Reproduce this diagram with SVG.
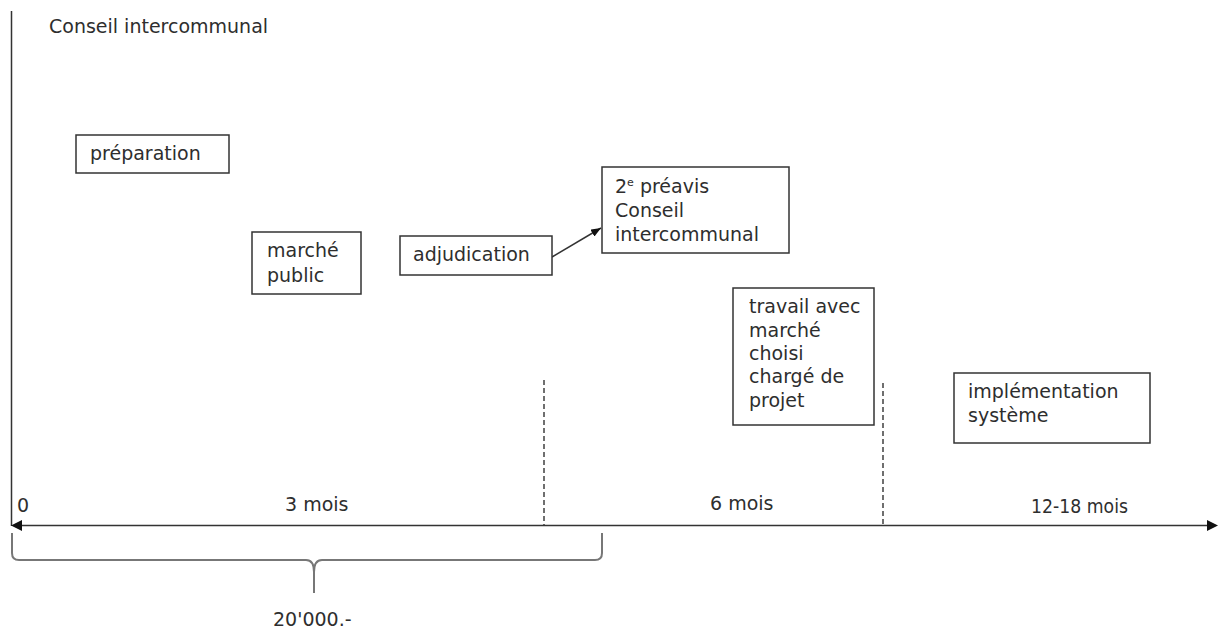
<svg xmlns="http://www.w3.org/2000/svg" width="1218" height="630" viewBox="0 0 1218 630">
<style>
text{font-family:"DejaVu Sans","Noto Sans",sans-serif;font-size:19px;fill:#2e2e2e}
.box{fill:#fff;stroke:#333;stroke-width:1.5}
.ax{stroke:#333;stroke-width:1.5;fill:none}
.dash{stroke:#333;stroke-width:1.4;stroke-dasharray:5 3;fill:none}
.brace{stroke:#777;stroke-width:2;fill:none}
</style>
<defs>
<marker id="ah" markerWidth="10" markerHeight="8" refX="10" refY="4" orient="auto" markerUnits="userSpaceOnUse">
<path d="M0,0 L10,4 L0,8 Z" fill="#111"/>
</marker>
</defs>
<rect width="1218" height="630" fill="#fff"/>
<g id="connectors">
<line class="ax" x1="11.5" y1="11" x2="11.5" y2="526"/>
<line class="ax" x1="20" y1="525.5" x2="1208" y2="525.5"/>
<path d="M22,520 L11,525.5 L22,531 Z" fill="#111"/>
<path d="M1207,520 L1218,525.5 L1207,531 Z" fill="#111"/>
<line class="dash" x1="544" y1="380" x2="544" y2="525"/>
<line class="dash" x1="883" y1="383" x2="883" y2="525"/>
<line class="ax" x1="552" y1="257" x2="601" y2="228" marker-end="url(#ah)" stroke="#222"/>
<path class="brace" d="M12,533 L12,553 Q12,560 19,560 L306,560 Q314,560 314,572 L314,593 M314,593 L314,572 Q314,560 322,560 L595,560 Q602,560 602,553 L602,533"/>
</g>
<g id="title"><text x="49" y="33">Conseil intercommunal</text></g>
<g id="preparation"><rect class="box" x="76" y="135" width="153" height="38"/><text x="90" y="160">préparation</text></g>
<g id="marche-public"><rect class="box" x="252" y="232" width="109" height="62"/><text x="267" y="257">marché</text><text x="267" y="282">public</text></g>
<g id="adjudication"><rect class="box" x="400" y="236" width="152" height="39"/><text x="413" y="261">adjudication</text></g>
<g id="preavis"><rect class="box" x="602" y="167" width="187" height="86"/><text x="615" y="193">2<tspan font-size="11" dy="-7">e</tspan><tspan dy="7"> préavis</tspan></text><text x="615" y="217">Conseil</text><text x="615" y="241">intercommunal</text></g>
<g id="travail"><rect class="box" x="733" y="288" width="141" height="137"/><text x="749" y="313">travail avec</text><text x="749" y="337">marché</text><text x="749" y="360">choisi</text><text x="749" y="383">chargé de</text><text x="749" y="407">projet</text></g>
<g id="implementation"><rect class="box" x="954" y="373" width="196" height="70"/><text x="968" y="398">implémentation</text><text x="968" y="422">système</text></g>
<g id="labels">
<text x="17" y="512">0</text>
<text x="285" y="511">3 mois</text>
<text x="710" y="510">6 mois</text>
<text x="1031" y="513" textLength="97" lengthAdjust="spacingAndGlyphs">12-18 mois</text>
<text x="273" y="626">20'000.-</text>
</g>
</svg>
